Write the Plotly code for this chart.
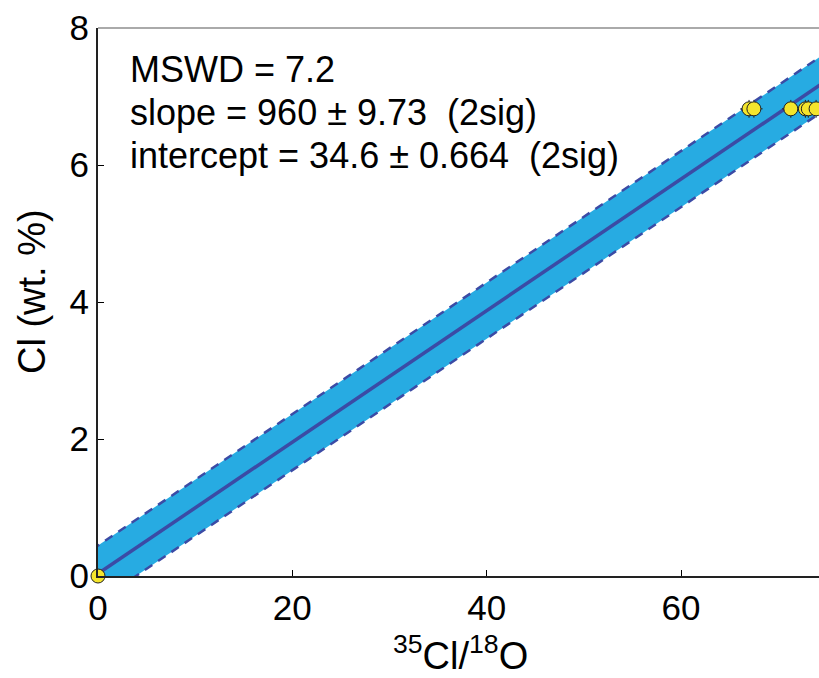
import plotly.graph_objects as go

# ---- data ----
x_pts = [0.0, 67.0, 67.5, 71.3, 72.8, 73.1, 73.9]
y_pts = [0.0, 6.82, 6.82, 6.82, 6.82, 6.82, 6.82]
x_err = [0.0, 0.9, 0.9, 0.9, 0.9, 0.9, 0.9]
y_err = [0.0, 0.13, 0.13, 0.13, 0.13, 0.13, 0.13]

fit_slope = 0.0960
fit_intercept = 0.0346
band_half = 0.41
fit_x = [-2.0, 80.0]

x_ticks = [0, 20, 40, 60]
y_ticks = [0, 2, 4, 6, 8]

stats_lines = ["MSWD = 7.2",
               "slope = 960 ± 9.73&nbsp;&nbsp;(2sig)",
               "intercept = 34.6 ± 0.664&nbsp;&nbsp;(2sig)"]

fit_y = [fit_slope * x + fit_intercept for x in fit_x]
up_y = [y + band_half for y in fit_y]
lo_y = [y - band_half for y in fit_y]

band_col = "#27ABE2"
line_col = "#3B4BA5"

fig = go.Figure()
fig.add_trace(go.Scatter(x=fit_x + fit_x[::-1], y=up_y + lo_y[::-1], fill="toself",
                         fillcolor=band_col, line=dict(width=0), mode="lines",
                         hoverinfo="skip", showlegend=False))
fig.add_trace(go.Scatter(x=fit_x, y=up_y, mode="lines",
                         line=dict(color=line_col, width=2.5, dash="9px,7px"), showlegend=False))
fig.add_trace(go.Scatter(x=fit_x, y=lo_y, mode="lines",
                         line=dict(color=line_col, width=2.5, dash="9px,7px"), showlegend=False))
fig.add_trace(go.Scatter(x=fit_x, y=fit_y, mode="lines",
                         line=dict(color=line_col, width=3.5), showlegend=False))
fig.add_trace(go.Scatter(x=x_pts, y=y_pts, mode="markers",
                         marker=dict(size=14, color="#F4E52C", line=dict(color="#222222", width=1)),
                         error_x=dict(type="data", array=x_err, color="#222222", thickness=1, width=0),
                         error_y=dict(type="data", array=y_err, color="#222222", thickness=1, width=0),
                         cliponaxis=False, showlegend=False))

font_family = "Liberation Sans, Arial, Helvetica, sans-serif"
for i, t in enumerate(stats_lines):
    py = 70 + i * 42.5
    fig.add_annotation(xref="paper", yref="paper", x=30 / 721, y=1 - (py - 28) / 548,
                       xanchor="left", yanchor="middle", text=t, showarrow=False,
                       font=dict(size=36, color="black", family=font_family))

# axis titles
fig.add_annotation(xref="paper", yref="paper", x=(460 - 98) / 721, y=1 - (653 - 28) / 548,
                   xanchor="center", yanchor="middle", showarrow=False,
                   text="<sup>35</sup>Cl/<sup>18</sup>O", font=dict(size=38, family=font_family))
fig.add_annotation(xref="paper", yref="paper", x=(32 - 98) / 721, y=1 - (292 - 28) / 548,
                   xanchor="center", yanchor="middle", showarrow=False, textangle=-90,
                   text="Cl (wt. %)", font=dict(size=38, family=font_family))

fig.add_shape(type="line", xref="paper", yref="paper", x0=0, x1=1, y0=1, y1=1,
              line=dict(color="#AAAAAA", width=2))

fig.update_layout(
    width=819, height=678,
    margin=dict(l=98, r=0, t=28, b=102),
    paper_bgcolor="white", plot_bgcolor="white",
    font=dict(family=font_family, size=35, color="black"),
    xaxis=dict(range=[0, 74.2], tickvals=x_ticks, ticks="inside", ticklen=6, tickcolor="black",
               showline=True, linecolor="#222222", linewidth=2, showgrid=False, zeroline=False,
               automargin=False, tickfont=dict(size=35)),
    yaxis=dict(range=[0, 8], tickvals=y_ticks, ticks="inside", ticklen=6, tickcolor="black",
               showline=True, linecolor="#222222", linewidth=2, showgrid=False, zeroline=False,
               automargin=False, tickfont=dict(size=35)),
)

fig.write_html("out.html", config={"displayModeBar": False},
               post_script="document.body.style.margin='0';document.body.style.padding='0';")
